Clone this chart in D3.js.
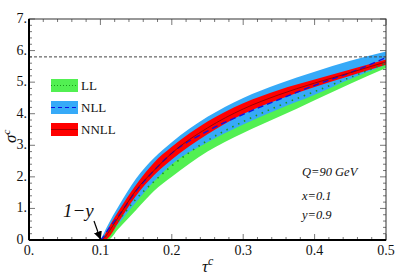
<!DOCTYPE html>
<html>
<head>
<meta charset="utf-8">
<script src="https://cdn.jsdelivr.net/npm/d3@7"></script>
<style>
  body { margin: 0; background: #fff; }
  text { font-family: "Liberation Serif", "DejaVu Serif", serif; fill: #111; }
</style>
</head>
<body>
<svg width="395" height="277"></svg>
<script>
// data
const tau = [0.1, 0.105, 0.11, 0.125, 0.15, 0.175, 0.2, 0.25, 0.3, 0.35, 0.4, 0.45, 0.5];
const llLow = [0, 0, 0, 0.35, 0.95, 1.55, 2.0, 2.8, 3.39, 3.9, 4.43, 4.95, 5.45];
const llHigh = [0, 0.15, 0.35, 0.9, 1.7, 2.3, 2.8, 3.6, 4.15, 4.6, 5.0, 5.35, 5.7];
const llMid = [0, 0.05, 0.18, 0.6, 1.3, 1.85, 2.35, 3.15, 3.75, 4.25, 4.7, 5.15, 5.6];
const nllLow = [0, 0, 0.12, 0.5, 1.2, 1.85, 2.4, 3.1, 3.66, 4.15, 4.6, 5.1, 5.55];
const nllHigh = [0, 0.22, 0.45, 1.05, 1.95, 2.6, 3.1, 3.9, 4.5, 4.95, 5.33, 5.68, 5.97];
const nllMid = [0, 0.12, 0.3, 0.75, 1.55, 2.2, 2.75, 3.45, 3.98, 4.45, 4.9, 5.3, 5.78];
const nnllLow = [0, 0, 0.05, 0.55, 1.4, 2.05, 2.55, 3.35, 3.99, 4.45, 4.85, 5.2, 5.55];
const nnllHigh = [0, 0.12, 0.33, 0.9, 1.75, 2.45, 2.95, 3.75, 4.33, 4.75, 5.08, 5.4, 5.72];
const nnllMid = [0, 0.05, 0.2, 0.72, 1.58, 2.2, 2.75, 3.55, 4.15, 4.6, 4.97, 5.3, 5.64];
const limit = 5.8;
const xTicks = [0, 0.1, 0.2, 0.3, 0.4, 0.5];
const xTickLabels = ["0.", "0.1", "0.2", "0.3", "0.4", "0.5"];
const yTicks = [0, 1, 2, 3, 4, 5, 6, 7];
const yTickLabels = ["0", "1.", "2.", "3.", "4.", "5.", "6.", "7."];
const legendNames = ["LL", "NLL", "NNLL"];
const notes = ["Q=90 GeV", "x=0.1", "y=0.9"];

const svg = d3.select("svg");
const padL = 29, padR = 386, padT = 19, padB = 240;

const x = d3.scaleLinear().domain([0, 0.5]).range([padL, padR]);
const y = d3.scaleLinear().domain([0, 7]).range([padB, padT]);

const band = (lo, hi) => d3.area()
    .x((d, i) => x(tau[i]))
    .y0((d, i) => y(lo[i]))
    .y1((d, i) => y(hi[i]))
    .curve(d3.curveMonotoneX)(tau);
const line = (v) => d3.line()
    .x((d, i) => x(tau[i]))
    .y((d, i) => y(v[i]))
    .curve(d3.curveMonotoneX)(tau);

const green = "#52f052", blue = "#36aaf8", red = "#ff0000";

// bands
svg.append("path").attr("d", band(llLow, llHigh)).attr("fill", green);
svg.append("path").attr("d", band(nllLow, nllHigh)).attr("fill", blue);
svg.append("path").attr("d", band(nnllLow, nnllHigh)).attr("fill", red);

// central lines
svg.append("path").attr("d", line(llMid)).attr("fill", "none")
    .attr("stroke", "#1a9a1a").attr("stroke-width", 1.6).attr("stroke-dasharray", "1.5,5");
svg.append("path").attr("d", line(nllMid)).attr("fill", "none")
    .attr("stroke", "#1010e0").attr("stroke-width", 1.4).attr("stroke-dasharray", "6,4");
svg.append("path").attr("d", line(nnllMid)).attr("fill", "none")
    .attr("stroke", "#900000").attr("stroke-width", 0.9);

// horizontal limit
svg.append("line")
    .attr("x1", x(0)).attr("x2", x(0.5))
    .attr("y1", y(limit)).attr("y2", y(limit))
    .attr("stroke", "#444").attr("stroke-width", 1).attr("stroke-dasharray", "3,2");

// ticks on all four sides, pointing inward
const xMinor = d3.range(0, 0.5001, 0.02);
const yMinor = d3.range(0, 7.001, 0.2);
const tickG = svg.append("g").attr("stroke", "#555").attr("stroke-width", 0.8);
xMinor.forEach((t) => {
    const major = Math.abs(t * 10 - Math.round(t * 10)) < 1e-6;
    const len = major ? 6 : 3;
    tickG.append("line").attr("x1", x(t)).attr("x2", x(t)).attr("y1", padB).attr("y2", padB - len);
    tickG.append("line").attr("x1", x(t)).attr("x2", x(t)).attr("y1", padT).attr("y2", padT + len);
});
yMinor.forEach((t) => {
    const major = Math.abs(t - Math.round(t)) < 1e-6;
    const len = major ? 6 : 3;
    tickG.append("line").attr("x1", padL).attr("x2", padL + len).attr("y1", y(t)).attr("y2", y(t));
    tickG.append("line").attr("x1", padR).attr("x2", padR - len).attr("y1", y(t)).attr("y2", y(t));
});

// frame
svg.append("rect")
    .attr("x", padL).attr("y", padT)
    .attr("width", padR - padL).attr("height", padB - padT)
    .attr("fill", "none").attr("stroke", "#333").attr("stroke-width", 1);
svg.append("line").attr("x1", padL).attr("x2", padL).attr("y1", padT).attr("y2", padB)
    .attr("stroke", "#000").attr("stroke-width", 2);
svg.append("line").attr("x1", padL).attr("x2", padR).attr("y1", padB).attr("y2", padB)
    .attr("stroke", "#000").attr("stroke-width", 2);

// tick labels
svg.selectAll(".xl").data(xTicks).enter().append("text")
    .attr("x", (d) => x(d)).attr("y", 255)
    .attr("text-anchor", "middle").attr("font-size", 14)
    .text((d, i) => xTickLabels[i]);
svg.selectAll(".yl").data(yTicks).enter().append("text")
    .attr("x", 16.5).attr("y", (d) => y(d) + 4)
    .attr("text-anchor", "start").attr("font-size", 14)
    .text((d, i) => yTickLabels[i]);

// axis titles
const xt = svg.append("text").attr("x", 202).attr("y", 272)
    .attr("font-size", 17).attr("font-style", "italic");
xt.append("tspan").text("τ");
xt.append("tspan").attr("dy", -7).attr("font-size", 12).text("c");
const yt = svg.append("text")
    .attr("transform", "translate(16,143) rotate(-90)")
    .attr("font-size", 17).attr("font-style", "italic");
yt.append("tspan").text("σ");
yt.append("tspan").attr("dy", -6).attr("font-size", 11).text("c");

// legend
const legColors = [green, blue, red];
legendNames.forEach((name, i) => {
    const ly = 79 + i * 22;
    svg.append("rect").attr("x", 51).attr("y", ly).attr("width", 27).attr("height", 13)
        .attr("fill", legColors[i]);
    const mid = ly + 6.5;
    const ln = svg.append("line").attr("x1", 51).attr("x2", 78).attr("y1", mid).attr("y2", mid);
    if (i === 0) ln.attr("stroke", "#1a9a1a").attr("stroke-width", 1).attr("stroke-dasharray", "1,2");
    if (i === 1) ln.attr("stroke", "#1010e0").attr("stroke-width", 1).attr("stroke-dasharray", "4,3");
    if (i === 2) ln.attr("stroke", "#900000").attr("stroke-width", 0.8);
    svg.append("text").attr("x", 81).attr("y", ly + 11)
        .attr("font-size", 13).text(name);
});

// annotations
notes.forEach((s, i) => {
    svg.append("text").attr("x", 302).attr("y", [176, 200, 219][i])
        .attr("font-size", 12.5).attr("font-style", "italic").text(s);
});
svg.append("text").attr("x", 63).attr("y", 217)
    .attr("font-size", 19).attr("font-style", "italic").text("1\u2212y");
svg.append("defs").append("marker")
    .attr("id", "arr").attr("viewBox", "0 0 10 10").attr("refX", 9).attr("refY", 5)
    .attr("markerWidth", 7).attr("markerHeight", 7).attr("orient", "auto")
    .append("path").attr("d", "M0,0L10,5L0,10z").attr("fill", "#000");
svg.append("line")
    .attr("x1", 94).attr("y1", 221).attr("x2", x(0.1)).attr("y2", padB - 1)
    .attr("stroke", "#000").attr("stroke-width", 1.2).attr("marker-end", "url(#arr)");
</script>
</body>
</html>
